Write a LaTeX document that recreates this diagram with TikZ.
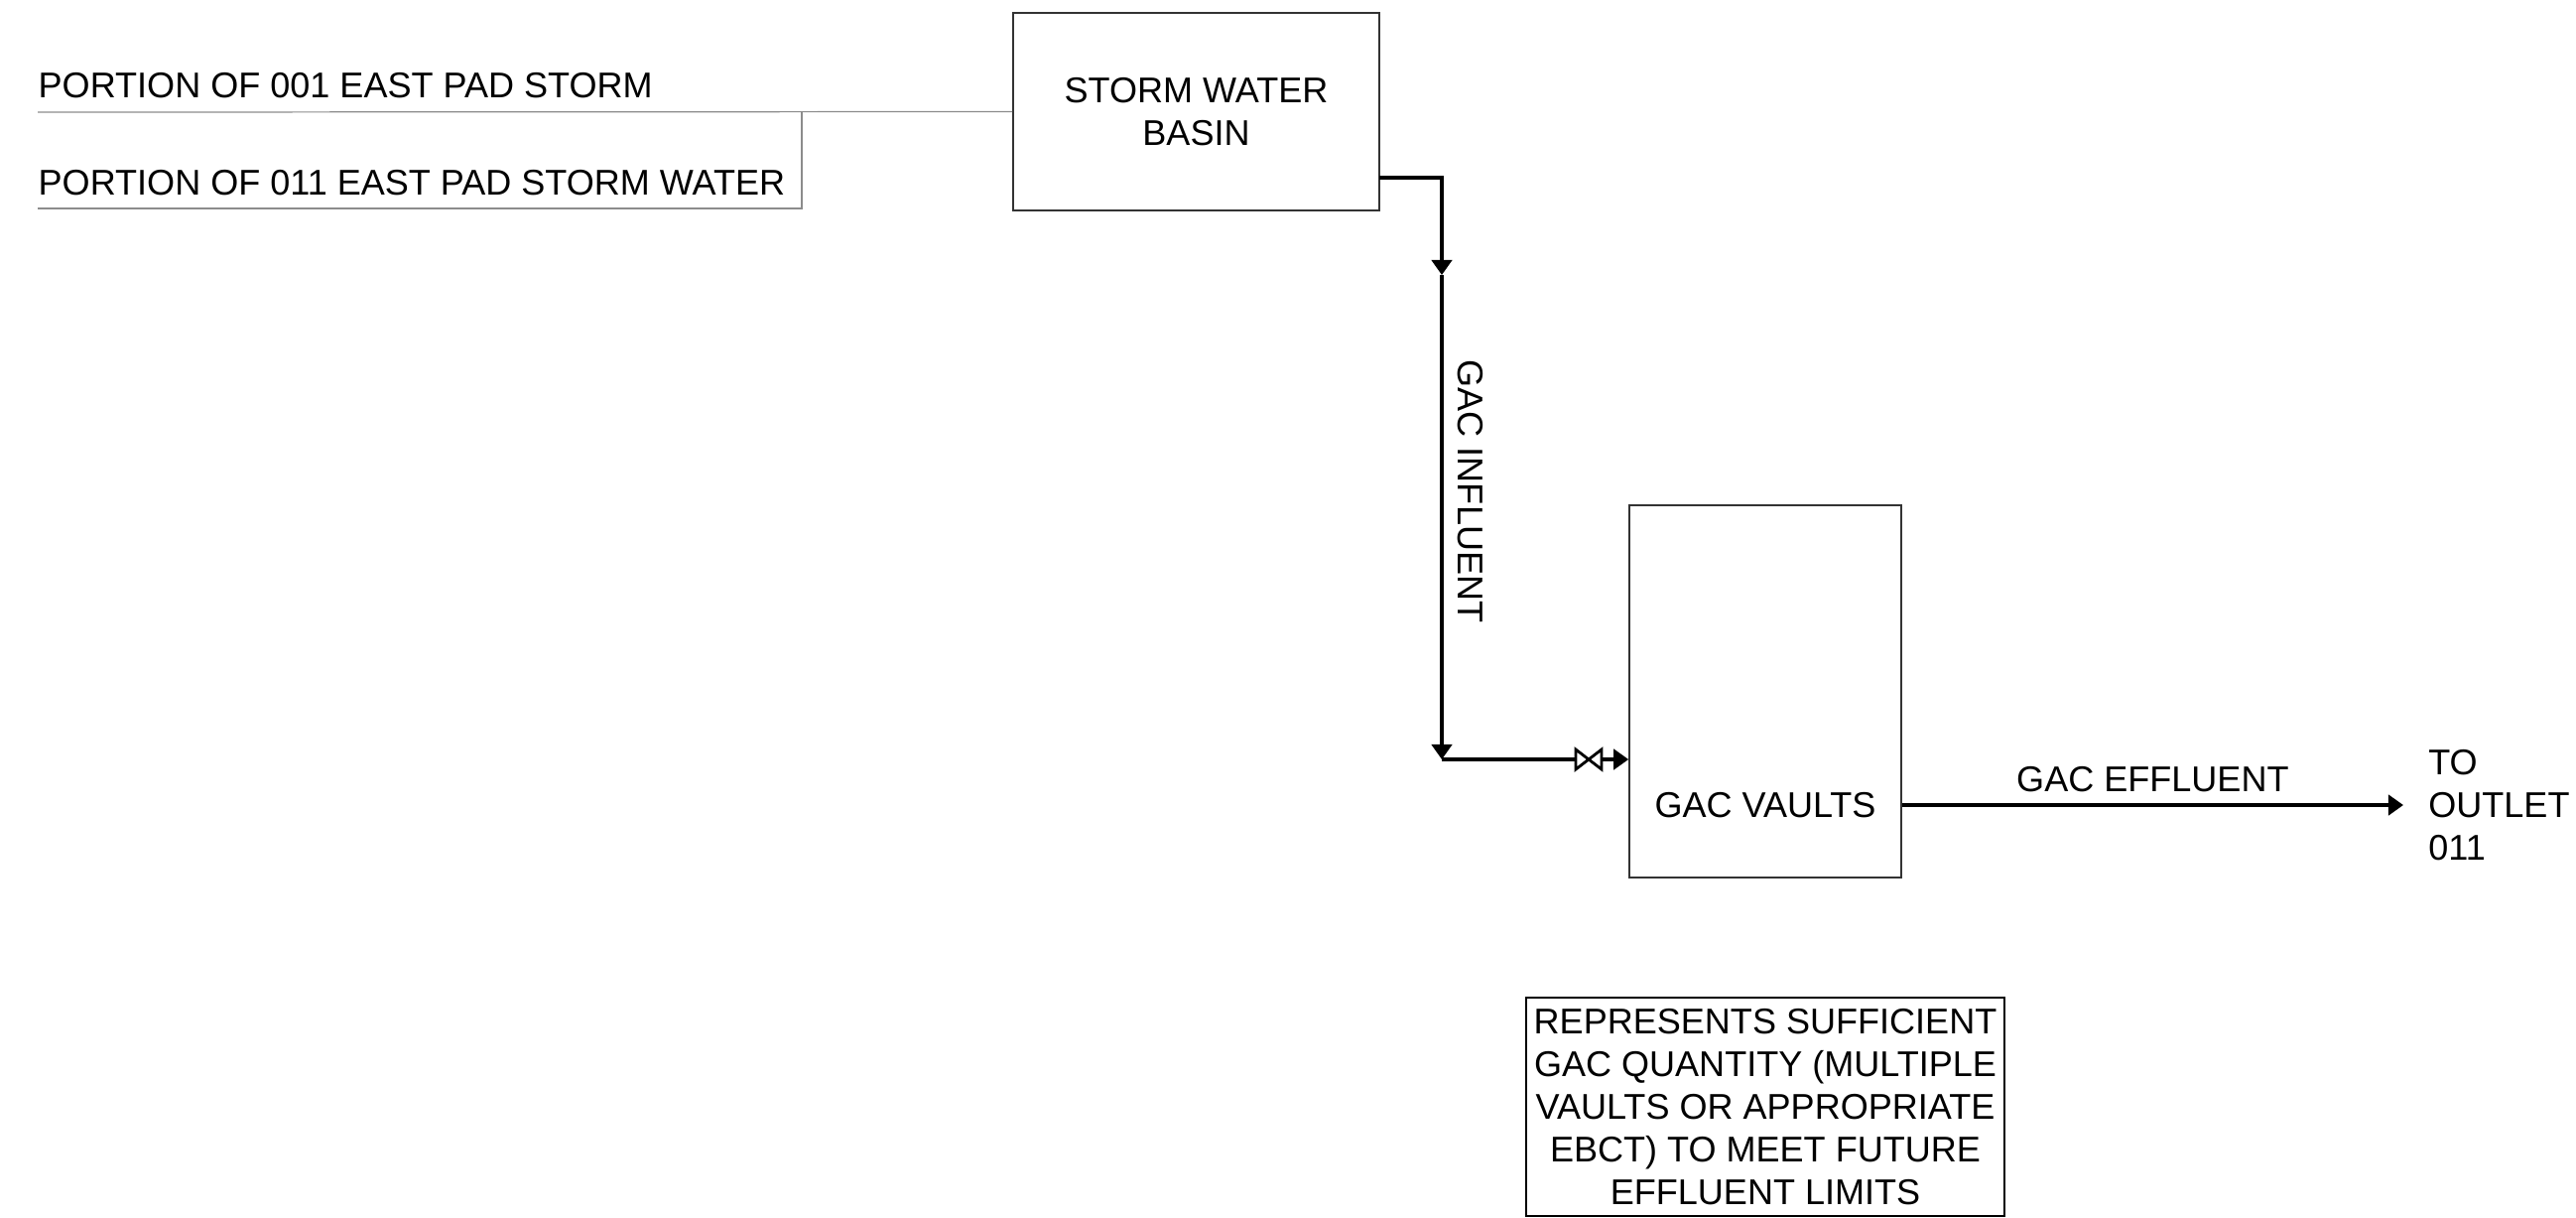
\documentclass[tikz,border=0pt]{standalone}
\usepackage{fontspec}
\setmainfont{Liberation Sans}
\usetikzlibrary{arrows.meta}
\tikzset{
  unit/.style={draw=black!80, line width=0.4pt},
  pipe/.style={line width=1pt},
  feed/.style={draw=black!45, line width=0.35pt},
  valve/.style={line width=0.8pt, fill=white},
}
\begin{document}
\begin{tikzpicture}[x=0.01cm, y=-0.01cm, >={Triangle[width=5.8pt,length=4.3pt]},
  every node/.style={font=\fontsize{10.25}{12.2}\selectfont}]
  \useasboundingbox (0,0) rectangle (2596,1226);

  \node[unit, minimum width=3.69cm, minimum height=1.99cm, align=center] (basin) at (1205.5,112.5) {STORM WATER\\BASIN};
  \node[unit, minimum width=2.74cm, minimum height=3.75cm] (vault) at (1779,696.5) {};
  \node (vaultlbl) at (1779,811) {GAC VAULTS};
  \node[anchor=west, inner xsep=7pt, inner ysep=0pt, align=left] (outlet) at (2422,811) {TO\\OUTLET\\011};

  \coordinate (in1) at (38,113);
  \coordinate (in2) at (38,210);
  \coordinate (tee) at (808,113);
  \coordinate (bout) at (1390,179);
  \coordinate (drop) at (1453,277);
  \coordinate (bend) at (1453,765);
  \coordinate (valvel) at (1588,765);
  \coordinate (valver) at (1614,765);

  % incoming storm water
  \draw[feed] (in1) -- (basin.west);
  \draw[feed] (in2) -| (tee);
  \node[anchor=base west, inner sep=0pt] (src1) at (38,98.5) {PORTION OF 001 EAST PAD STORM};
  \node[anchor=base west, inner sep=0pt] (src2) at (38,196.5) {PORTION OF 011 EAST PAD STORM WATER};

  % influent to the vaults
  \draw[pipe,->] (bout) -| (drop);
  \draw[pipe,->] (drop) -- (bend);
  \draw[pipe] (bend) -- (valvel);
  \draw[valve] (valvel) ++(0,-10) -- ++(26,20) -- ++(0,-20) -- ++(-26,20) -- cycle;
  \draw[pipe,->] (valver) -- (vault.west |- valver);
  \node[rotate=-90] (inflbl) at (1482,495) {GAC INFLUENT};

  % effluent
  \draw[pipe,->] (vault.east |- vaultlbl) -- node[above] (efflbl) {GAC EFFLUENT} (outlet.west);

  \node[draw, line width=0.6pt, minimum width=4.82cm, minimum height=2.2cm, align=center, inner sep=1pt] (note) at (1779,1115)
    {REPRESENTS SUFFICIENT\\GAC QUANTITY (MULTIPLE\\VAULTS OR APPROPRIATE\\EBCT) TO MEET FUTURE\\EFFLUENT LIMITS};
\end{tikzpicture}
\end{document}
